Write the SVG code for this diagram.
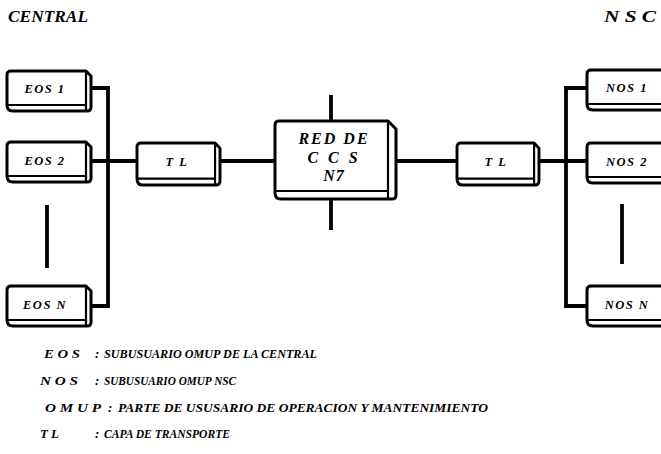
<svg xmlns="http://www.w3.org/2000/svg" width="661" height="454" viewBox="0 0 661 454">
<style>
.box{fill:#fff;stroke:#000;stroke-width:3;stroke-linejoin:round}
.in{fill:none;stroke:#000;stroke-width:2.2}
.ln{fill:none;stroke:#000;stroke-width:3.8;stroke-linecap:butt}
text{font-family:"Liberation Serif","Times New Roman",serif;font-weight:bold;font-style:italic;fill:#000}
.lbl{font-size:12.5px;letter-spacing:1.5px;text-anchor:middle}
.hd{font-size:17px}
.lg{font-size:13px}
</style>
<defs>
<g id="b">
<path class="box" d="M4,0 H79 L84,5 V36 Q84,40 80,40 H6 Q0,40 0,34 V4 Q0,0 4,0 Z"/>
<path class="in" d="M79,0 V40 M1,34 H79"/>
</g>
</defs>
<rect width="661" height="454" fill="#fff"/>
<text class="hd" x="8" y="22" textLength="80" lengthAdjust="spacingAndGlyphs">CENTRAL</text>
<text class="hd" x="604" y="22" textLength="52" lengthAdjust="spacingAndGlyphs">N S C</text>
<g id="connectors">
<path class="ln" d="M91,88 H108 V306 H91"/>
<path class="ln" d="M91,161 H138"/>
<path class="ln" d="M220,161 H275"/>
<path class="ln" d="M331,95 V121 M331,199 V230"/>
<path class="ln" d="M396,161 H457"/>
<path class="ln" d="M538,161 H587"/>
<path class="ln" d="M587,88 H566 V306 H587"/>
<path class="ln" d="M47,205 V268"/>
<path class="ln" d="M622,204 V264"/>
</g>
<g id="eos1"><use href="#b" x="7" y="71"/><text class="lbl" x="45" y="93">EOS 1</text></g>
<g id="eos2"><use href="#b" x="7" y="142"/><text class="lbl" x="45" y="165">EOS 2</text></g>
<g id="eosn"><use href="#b" x="7" y="286"/><text class="lbl" x="45" y="309">EOS N</text></g>
<g id="tl1"><use href="#b" x="137" y="143" transform="translate(137,143) scale(0.988,1.05) translate(-137,-143)"/><text class="lbl" x="177" y="166">T L</text></g>
<g id="red">
<path class="box" d="M279,121 H388 L396,129 V195 Q396,199 392,199 H281 Q275,199 275,193 V125 Q275,121 279,121 Z"/>
<path class="in" d="M388,121 V199 M276,191 H388"/>
<text x="334" y="144" font-size="16" text-anchor="middle" letter-spacing="2">RED DE</text>
<text x="334" y="163" font-size="16" text-anchor="middle" letter-spacing="3">C C S</text>
<text x="334" y="181" font-size="16" text-anchor="middle" letter-spacing="1">N7</text>
</g>
<g id="tl2"><use href="#b" x="457" y="143" transform="translate(457,143) scale(0.976,1.05) translate(-457,-143)"/><text class="lbl" x="496" y="166">T L</text></g>
<g id="nos1"><use href="#b" x="587" y="70"/><text class="lbl" x="627" y="92">NOS 1</text></g>
<g id="nos2"><use href="#b" x="587" y="143"/><text class="lbl" x="627" y="166">NOS 2</text></g>
<g id="nosn"><use href="#b" x="587" y="286"/><text class="lbl" x="627" y="309">NOS N</text></g>
<g id="legend" class="lg">
<text x="44" y="358" textLength="36" lengthAdjust="spacingAndGlyphs">E O S</text>
<text x="95" y="358">:</text>
<text x="104" y="358" textLength="213" lengthAdjust="spacingAndGlyphs">SUBUSUARIO OMUP DE LA CENTRAL</text>
<text x="40" y="385" textLength="38" lengthAdjust="spacingAndGlyphs">N O S</text>
<text x="95" y="385">:</text>
<text x="104" y="385" textLength="132" lengthAdjust="spacingAndGlyphs">SUBUSUARIO OMUP NSC</text>
<text x="45" y="412" textLength="56" lengthAdjust="spacingAndGlyphs">O M U P</text>
<text x="108" y="412">:</text>
<text x="118" y="412" textLength="370" lengthAdjust="spacingAndGlyphs">PARTE DE USUSARIO DE OPERACION Y MANTENIMIENTO</text>
<text x="40" y="438" textLength="19" lengthAdjust="spacingAndGlyphs">T L</text>
<text x="95" y="438">:</text>
<text x="104" y="438" textLength="126" lengthAdjust="spacingAndGlyphs">CAPA DE TRANSPORTE</text>
</g>
</svg>
